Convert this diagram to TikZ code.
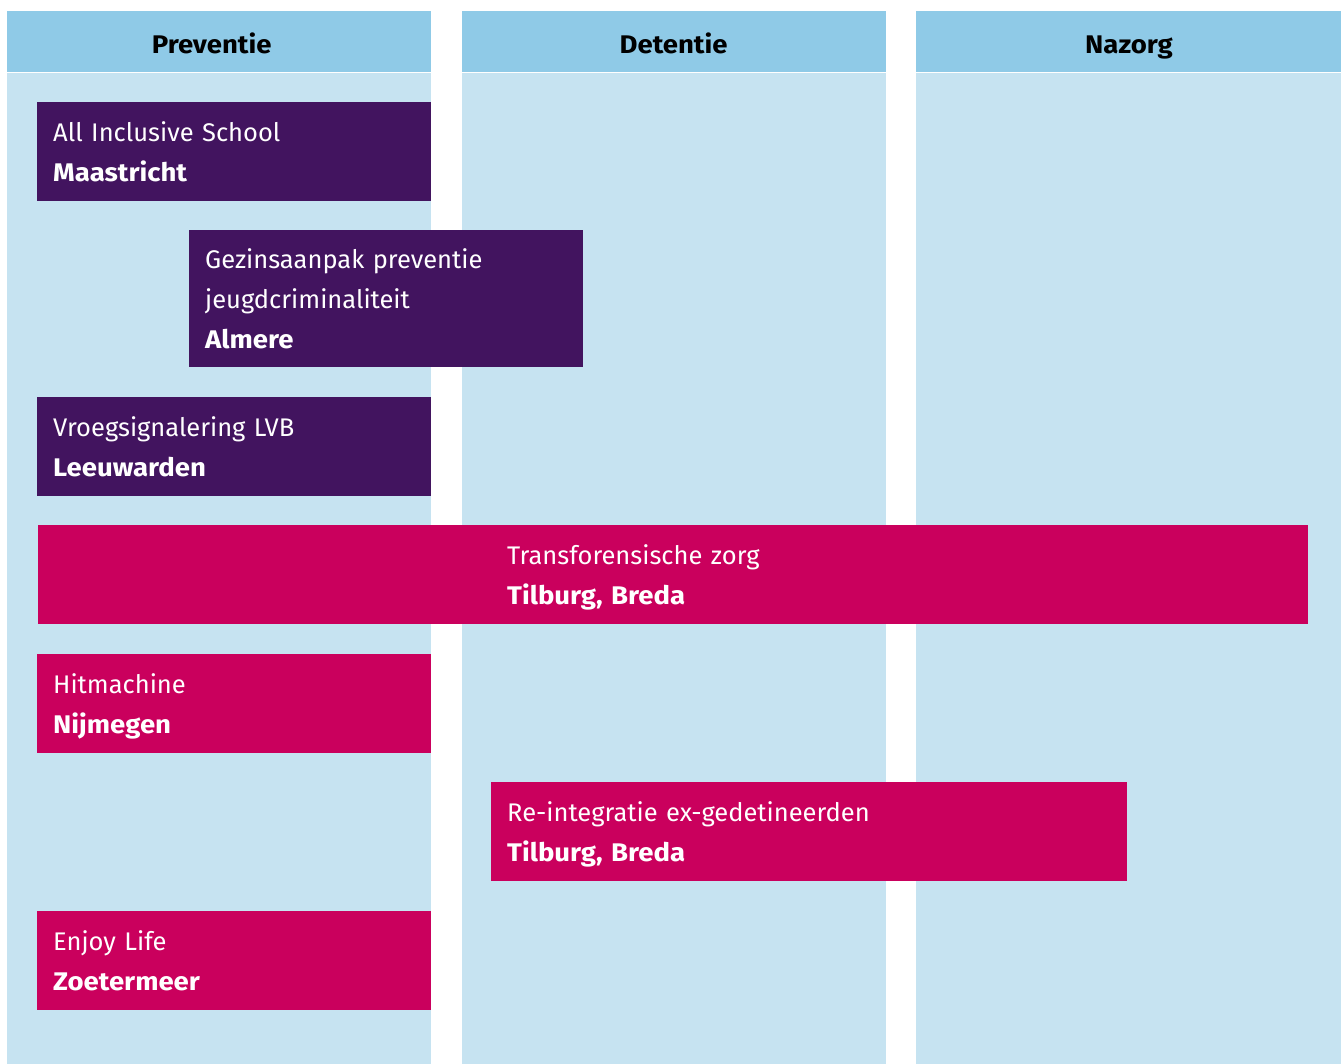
\documentclass[tikz,border=0pt]{standalone}
\usepackage{fontspec}
\setmainfont{Fira Sans}[BoldFeatures={FakeStretch=1.08}]
\usetikzlibrary{positioning}
\definecolor{headblue}{HTML}{8FCAE7}
\definecolor{colblue}{HTML}{C6E3F1}
\definecolor{projpurple}{HTML}{42145F}
\definecolor{ruby}{HTML}{CA005D}
\newcommand{\boxfont}{\fontsize{25.5pt}{40pt}\selectfont}
\newcommand{\projtext}[2]{\rule{0pt}{30pt}#1\\\textbf{#2}\rule[-10pt]{0pt}{10pt}}
\tikzstyle{head}=[fill=headblue, inner sep=0pt, minimum width=424pt,
  minimum height=61pt, text height=23pt, text depth=0pt,
  font=\fontsize{25.5pt}{30pt}\selectfont\bfseries]
\tikzstyle{column}=[fill=colblue, inner sep=0pt, minimum width=424pt,
  minimum height=992pt]
\tikzstyle{proj}=[anchor=north west, text=white, align=left, text width=362pt,
  inner xsep=16pt, inner ysep=9.5pt, font=\boxfont]
\tikzstyle{bar}=[anchor=north west, inner sep=0pt, minimum height=99pt]

\begin{document}
\begin{tikzpicture}[x=1pt, y=-1pt, node distance=30pt]
  \useasboundingbox[fill=white] (0,0) rectangle (1341,1064);

  % columns
  \node[head, anchor=north west] (prev) at (7,11) {Preventie\hspace*{15pt}};
  \node[head, right=of prev] (det) {Detentie};
  \node[head, right=of det, minimum width=426pt] (naz) {Nazorg};
  \node[column, below=0pt of prev] (prevcol) {};
  \node[column, below=0pt of det] (detcol) {};
  \node[column, below=0pt of naz, minimum width=426pt] (nazcol) {};

  % projects
  \node[proj, fill=projpurple] (maas) at (37,102)
    {\projtext{All Inclusive School}{Maastricht}};
  \node[proj, fill=projpurple, inner ysep=8.5pt] (alm) at (189,230)
    {\projtext{Gezinsaanpak preventie\\jeugdcriminaliteit}{Almere}};
  \node[proj, fill=projpurple] (leeu) at (37,397)
    {\projtext{Vroegsignalering LVB}{Leeuwarden}};

  \node[bar, fill=ruby, minimum width=1270pt] (trans) at (38,525) {};
  \node[proj, text width=600pt] (transtext) at ([xshift=453pt]trans.north west)
    {\projtext{Transforensische zorg}{Tilburg, Breda}};

  \node[proj, fill=ruby] (nijm) at (37,654)
    {\projtext{Hitmachine}{Nijmegen}};
  \node[proj, fill=ruby, text width=604pt] (reint) at (491,782)
    {\projtext{Re-integratie ex-gedetineerden}{Tilburg, Breda}};
  \node[proj, fill=ruby] (zoet) at (37,911)
    {\projtext{Enjoy Life}{Zoetermeer}};

\end{tikzpicture}
\end{document}
